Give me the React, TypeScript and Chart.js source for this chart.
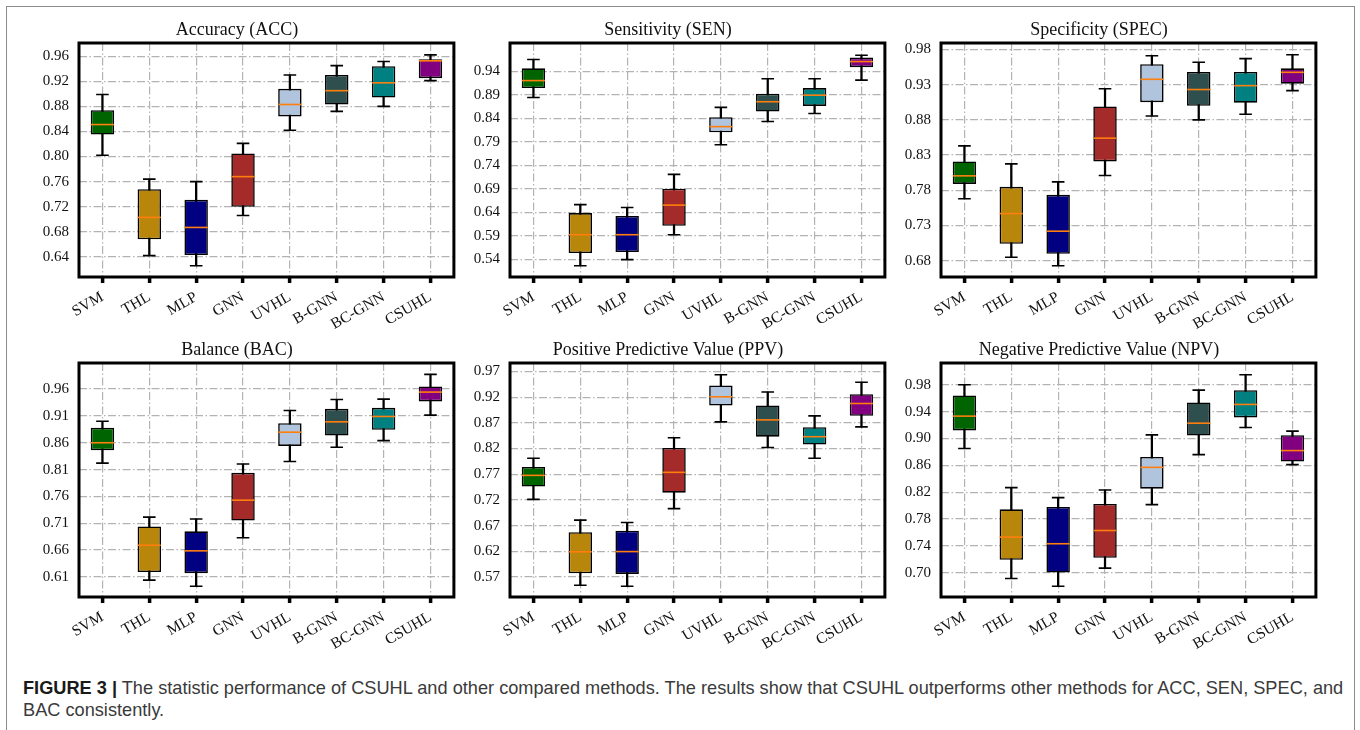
import React, { useEffect, useRef } from "react";
import Chart from "chart.js/auto";

// ---------- data ----------
const categories = ["SVM", "THL", "MLP", "GNN", "UVHL", "B-GNN", "BC-GNN", "CSUHL"];
const boxColors = ["#006400", "#b8860b", "#000080", "#a52a2a", "#b0c4de", "#2f4f4f", "#008080", "#800080"];

// each entry: [min, q1, median, q3, max]
const accStats = [
  [0.802, 0.835, 0.851, 0.874, 0.899],
  [0.642, 0.668, 0.703, 0.748, 0.764],
  [0.626, 0.643, 0.687, 0.731, 0.76],
  [0.706, 0.72, 0.768, 0.805, 0.821],
  [0.842, 0.864, 0.883, 0.908, 0.93],
  [0.872, 0.883, 0.905, 0.93, 0.945],
  [0.88, 0.894, 0.9175, 0.944, 0.9515],
  [0.921, 0.925, 0.9526, 0.955, 0.962],
];
const senStats = [
  [0.884, 0.904, 0.92, 0.946, 0.965],
  [0.526, 0.553, 0.592, 0.638, 0.656],
  [0.539, 0.555, 0.592, 0.632, 0.65],
  [0.592, 0.611, 0.655, 0.69, 0.7205],
  [0.7835, 0.81, 0.822, 0.842, 0.863],
  [0.833, 0.854, 0.875, 0.892, 0.924],
  [0.85, 0.866, 0.889, 0.904, 0.924],
  [0.921, 0.9485, 0.9605, 0.969, 0.974],
];
const specStats = [
  [0.768, 0.789, 0.8005, 0.821, 0.843],
  [0.685, 0.704, 0.747, 0.785, 0.8175],
  [0.673, 0.69, 0.722, 0.7736, 0.792],
  [0.801, 0.821, 0.854, 0.899, 0.924],
  [0.8855, 0.905, 0.9375, 0.959, 0.971],
  [0.88, 0.9, 0.923, 0.948, 0.9616],
  [0.888, 0.9044, 0.9285, 0.948, 0.9668],
  [0.9214, 0.9313, 0.9474, 0.953, 0.9724],
];
const bacStats = [
  [0.822, 0.846, 0.86, 0.888, 0.9],
  [0.604, 0.619, 0.669, 0.704, 0.7215],
  [0.5925, 0.617, 0.6586, 0.695, 0.718],
  [0.683, 0.715, 0.753, 0.804, 0.8205],
  [0.825, 0.854, 0.8797, 0.8965, 0.92],
  [0.8516, 0.8734, 0.899, 0.9233, 0.9407],
  [0.864, 0.884, 0.909, 0.925, 0.9413],
  [0.9114, 0.937, 0.9544, 0.965, 0.9874],
];
const ppvStats = [
  [0.721, 0.746, 0.7677, 0.784, 0.801],
  [0.554, 0.577, 0.619, 0.657, 0.6806],
  [0.552, 0.576, 0.6194, 0.66, 0.676],
  [0.703, 0.734, 0.7736, 0.821, 0.841],
  [0.8718, 0.9037, 0.9206, 0.9427, 0.9635],
  [0.822, 0.843, 0.8757, 0.9037, 0.93],
  [0.801, 0.8276, 0.843, 0.8614, 0.8835],
  [0.862, 0.8835, 0.9076, 0.9258, 0.949],
];
const npvStats = [
  [0.885, 0.912, 0.9333, 0.964, 0.98],
  [0.6916, 0.7194, 0.7532, 0.7945, 0.8268],
  [0.68, 0.7005, 0.7433, 0.798, 0.812],
  [0.707, 0.7224, 0.763, 0.8025, 0.8234],
  [0.8015, 0.8253, 0.857, 0.8726, 0.9054],
  [0.876, 0.9044, 0.9228, 0.9536, 0.972],
  [0.9163, 0.9313, 0.9507, 0.972, 0.995],
  [0.8611, 0.8656, 0.882, 0.905, 0.9109],
];

const accTicks = [0.64, 0.68, 0.72, 0.76, 0.8, 0.84, 0.88, 0.92, 0.96];
const senTicks = [0.54, 0.59, 0.64, 0.69, 0.74, 0.79, 0.84, 0.89, 0.94];
const specTicks = [0.68, 0.73, 0.78, 0.83, 0.88, 0.93, 0.98];
const bacTicks = [0.61, 0.66, 0.71, 0.76, 0.81, 0.86, 0.91, 0.96];
const ppvTicks = [0.57, 0.62, 0.67, 0.72, 0.77, 0.82, 0.87, 0.92, 0.97];
const npvTicks = [0.7, 0.74, 0.78, 0.82, 0.86, 0.9, 0.94, 0.98];

const titles = [
  "Accuracy (ACC)",
  "Sensitivity (SEN)",
  "Specificity (SPEC)",
  "Balance (BAC)",
  "Positive Predictive Value (PPV)",
  "Negative Predictive Value (NPV)",
];

// ---------- layout ----------
const Y_W = 62;
const TITLE_H = 38;
const X_H = 60;
const RIGHT_PAD = 10;
const PW = 378;
const PH = 234;
const COL_LEFT = [79, 510, 941];
const ROW_TOP = [43, 363];

const panels = [
  { title: titles[0], stats: accStats, ticks: accTicks, min: 0.608, max: 0.981, col: 0, row: 0 },
  { title: titles[1], stats: senStats, ticks: senTicks, min: 0.502, max: 1.0, col: 1, row: 0 },
  { title: titles[2], stats: specStats, ticks: specTicks, min: 0.657, max: 0.989, col: 2, row: 0 },
  { title: titles[3], stats: bacStats, ticks: bacTicks, min: 0.5726, max: 1.0086, col: 0, row: 1 },
  { title: titles[4], stats: ppvStats, ticks: ppvTicks, min: 0.531, max: 0.9864, col: 1, row: 1 },
  { title: titles[5], stats: npvStats, ticks: npvTicks, min: 0.664, max: 1.0124, col: 2, row: 1 },
];

const GRID_COLOR = "#b3b3b3";
const GRID_DASH = [8, 2.5, 1.5, 2.5];
const SERIF = "'Liberation Serif', 'Times New Roman', serif";

const framePlugin = {
  id: "frame",
  afterDraw(chart: any) {
    const { ctx, chartArea } = chart;
    const { left, top, right, bottom } = chartArea;
    ctx.save();
    ctx.strokeStyle = "#000";
    ctx.lineWidth = 3;
    ctx.strokeRect(left, top, right - left, bottom - top);
    ctx.restore();
  },
};

function BoxPanel({ p }: { p: any }) {
  const ref = useRef<HTMLCanvasElement | null>(null);
  useEffect(() => {
    if (!ref.current) return;
    const stats: number[][] = p.stats;
    const chart = new Chart(ref.current, {
      type: "bar",
      data: {
        labels: categories,
        datasets: [
          {
            type: "bar",
            label: "box",
            data: stats.map((s) => [s[1], s[3]]),
            backgroundColor: boxColors,
            borderColor: "#000",
            borderWidth: 1.6,
            borderSkipped: false,
            barPercentage: 0.5,
            categoryPercentage: 1,
            grouped: false,
            order: 2,
          } as any,
          {
            type: "bar",
            label: "whisker",
            data: stats.map((s) => [s[0], s[4]]),
            backgroundColor: "#000",
            borderWidth: 0,
            barThickness: 1.6,
            grouped: false,
            order: 3,
          } as any,
          {
            type: "line",
            label: "median",
            data: stats.map((s) => s[2]),
            showLine: false,
            pointStyle: "line",
            pointRadius: 11.5,
            pointHoverRadius: 11.5,
            pointBorderColor: "#ff7f0e",
            pointBorderWidth: 1.6,
            order: 0,
          } as any,
          {
            type: "line",
            label: "capLow",
            data: stats.map((s) => s[0]),
            showLine: false,
            pointStyle: "line",
            pointRadius: 6.3,
            pointHoverRadius: 6.3,
            pointBorderColor: "#000",
            pointBorderWidth: 1.6,
            order: 1,
          } as any,
          {
            type: "line",
            label: "capHigh",
            data: stats.map((s) => s[4]),
            showLine: false,
            pointStyle: "line",
            pointRadius: 6.3,
            pointHoverRadius: 6.3,
            pointBorderColor: "#000",
            pointBorderWidth: 1.6,
            order: 1,
          } as any,
        ],
      },
      options: {
        animation: false,
        responsive: false,
        devicePixelRatio: 1,
        events: [],
        layout: { padding: { left: 0, right: RIGHT_PAD, top: 0, bottom: 0 } },
        plugins: {
          legend: { display: false },
          tooltip: { enabled: false },
          title: {
            display: true,
            text: p.title,
            color: "#111",
            font: { family: SERIF, size: 18, weight: "normal" as any, lineHeight: 1.2 },
            padding: { top: 14, bottom: 2.4 },
          },
        },
        scales: {
          x: {
            type: "category",
            offset: true,
            grid: {
              offset: false,
              color: GRID_COLOR,
              lineWidth: 1.2,
              drawTicks: true,
              tickLength: 6,
              tickWidth: 3.5,
              tickColor: "#000",
              tickBorderDash: [],
            },
            border: { display: false, dash: GRID_DASH },
            ticks: {
              color: "#111",
              font: { family: SERIF, size: 15.5 },
              minRotation: 30,
              maxRotation: 30,
              autoSkip: false,
              padding: 5,
            },
            afterFit: (s: any) => {
              s.height = X_H;
            },
          },
          y: {
            type: "linear",
            min: p.min,
            max: p.max,
            grid: { color: GRID_COLOR, lineWidth: 1.2, drawTicks: false },
            border: { display: false, dash: GRID_DASH },
            ticks: {
              color: "#111",
              font: { family: SERIF, size: 15 },
              padding: 10,
              callback: (v: any) => Number(v).toFixed(2),
            },
            afterBuildTicks: (s: any) => {
              s.ticks = p.ticks.map((v: number) => ({ value: v }));
            },
            afterFit: (s: any) => {
              s.width = Y_W;
            },
          },
        },
      } as any,
      plugins: [framePlugin],
    });
    return () => chart.destroy();
  }, [p]);

  const w = Y_W + PW + RIGHT_PAD;
  const h = TITLE_H + PH + X_H;
  return (
    <canvas
      ref={ref}
      width={w}
      height={h}
      style={{
        position: "absolute",
        left: COL_LEFT[p.col] - Y_W,
        top: ROW_TOP[p.row] - TITLE_H,
        width: w,
        height: h,
      }}
    />
  );
}

export default function App() {
  return (
    <div
      style={{
        position: "absolute",
        left: 0,
        top: 0,
        width: 1360,
        height: 730,
        background: "#fff",
        overflow: "hidden",
      }}
    >
      <div
        style={{
          position: "absolute",
          left: 6,
          top: 6,
          width: 1347,
          height: 760,
          border: "1.5px solid #8c8c8c",
        }}
      />
      {panels.map((p, i) => (
        <BoxPanel key={i} p={p} />
      ))}
      <div
        style={{
          position: "absolute",
          left: 23,
          top: 677,
          fontFamily: "'Liberation Sans', Arial, sans-serif",
          fontSize: 18.2,
          lineHeight: "22px",
          color: "#3a3a3a",
          whiteSpace: "nowrap",
        }}
      >
        <b style={{ color: "#1a1a1a" }}>FIGURE 3 |</b> The statistic performance of CSUHL and other compared
        methods. The results show that CSUHL outperforms other methods for ACC, SEN, SPEC, and
        <br />
        BAC consistently.
      </div>
    </div>
  );
}
